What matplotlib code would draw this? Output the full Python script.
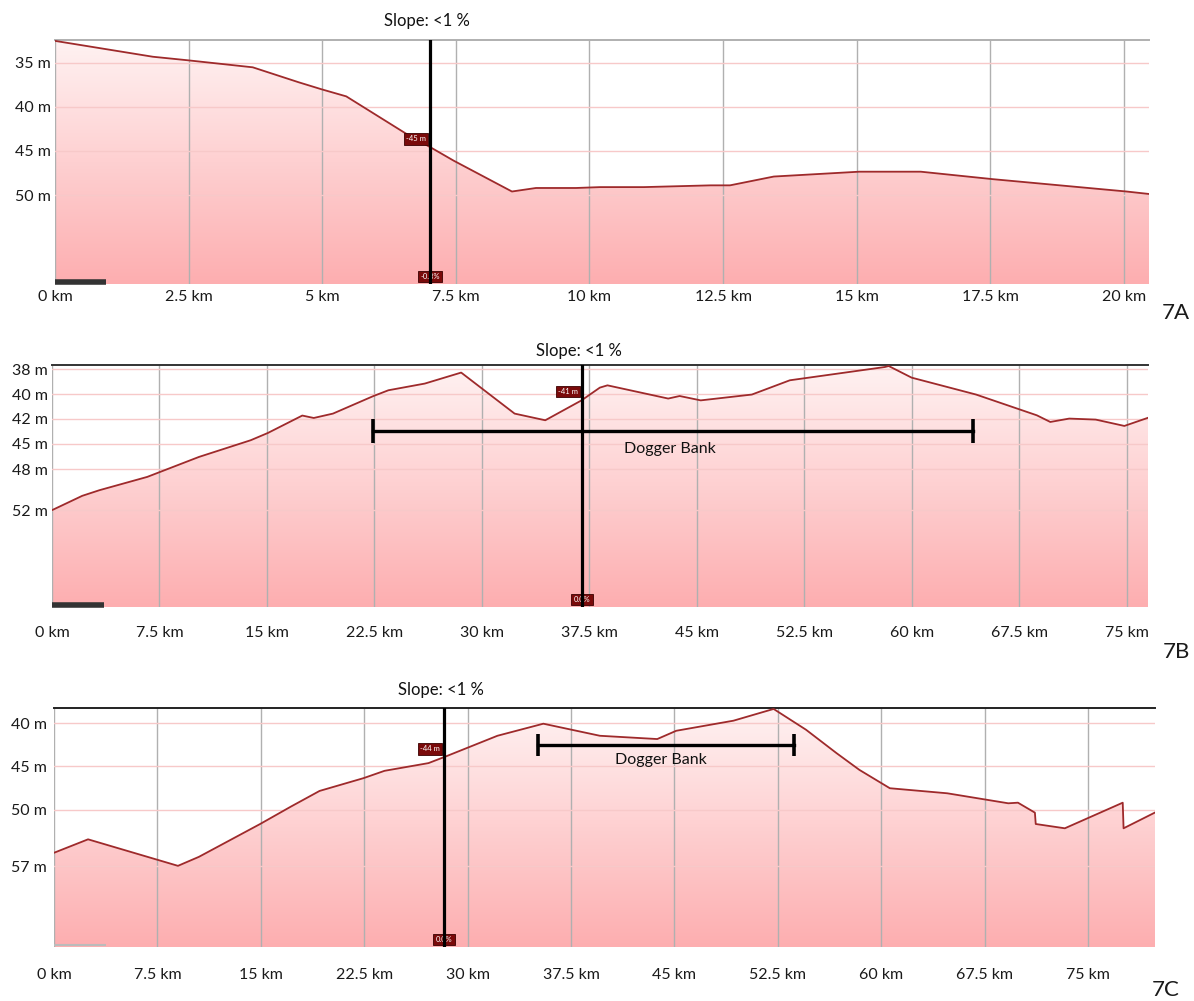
"""
Seabed depth profiles across Dogger Bank (panels 7A, 7B, 7C)
"""
import numpy as np
import matplotlib.pyplot as plt
from matplotlib.patches import Polygon
from matplotlib.colors import LinearSegmentedColormap

plt.rcParams['font.family'] = ['Lato', 'DejaVu Sans']

# ---- 7A ----
a_km = [0, 1.83, 2.48, 3.70, 4.56, 4.99, 5.45, 6.56, 7.06, 7.46, 8.55, 9.0, 9.75,
        10.2, 11.02, 12.27, 12.63, 13.45, 15.05, 16.2, 17.55, 20.05, 20.5]
a_depth = [32.5, 34.3, 34.7, 35.5, 37.2, 38.0, 38.8, 43.0, 44.7, 46.1, 49.6, 49.2, 49.2,
           49.1, 49.1, 48.9, 48.9, 47.9, 47.35, 47.35, 48.2, 49.6, 49.9]
a_xticks = [0, 2.5, 5, 7.5, 10, 12.5, 15, 17.5, 20]
a_xlabels = ['0 km', '2.5 km', '5 km', '7.5 km', '10 km', '12.5 km', '15 km', '17.5 km', '20 km']
a_yticks = [35, 40, 45, 50]
a_ylabels = ['35 m', '40 m', '45 m', '50 m']
a_marker_km = 7.02
a_marker_depth_label = '-45 m'
a_marker_slope_label = '-0.3%'

# ---- 7B ----
b_km = [0, 2.11, 3.31, 6.65, 10.26, 13.87, 15.07, 17.47, 18.27, 19.61, 22.4, 23.48,
        26.02, 28.56, 32.29, 34.43, 36.96, 38.24, 38.77, 43.01, 43.81, 45.28, 48.85,
        51.5, 58.13, 58.4, 60.0, 64.5, 68.74, 69.68, 71.0, 72.85, 74.85, 76.66]
b_depth = [52.0, 50.6, 50.05, 48.75, 46.54, 44.56, 43.7, 41.75, 41.95, 41.59, 40.16, 39.68,
           39.15, 38.28, 41.59, 42.2, 40.5, 39.47, 39.29, 40.35, 40.14, 40.5, 40.02,
           38.89, 37.84, 37.76, 38.68, 40.02, 41.73, 42.4, 42.0, 42.12, 42.87, 41.87]
b_xticks = [0, 7.5, 15, 22.5, 30, 37.5, 45, 52.5, 60, 67.5, 75]
b_xlabels = ['0 km', '7.5 km', '15 km', '22.5 km', '30 km', '37.5 km', '45 km',
             '52.5 km', '60 km', '67.5 km', '75 km']
b_yticks = [38, 40, 42, 45, 48, 52]
b_ylabels = ['38 m', '40 m', '42 m', '45 m', '48 m', '52 m']
b_marker_km = 37.0
b_marker_depth_label = '-41 m'
b_marker_slope_label = '0.0%'
b_bank_km = [22.4, 64.3]
b_bank_depth = 43.5

# ---- 7C ----
c_km = [0, 2.47, 8.99, 10.51, 14.95, 17.18, 19.26, 22.45, 23.97, 27.16, 28.41, 32.16,
        35.49, 39.59, 43.75, 45.13, 49.28, 52.19, 54.54, 56.75, 58.41, 60.62, 64.78,
        69.21, 69.91, 71.14, 71.2, 73.31, 77.51, 77.57, 79.89]
c_depth = [55.32, 53.66, 56.93, 55.82, 51.77, 49.65, 47.85, 46.38, 45.54, 44.65, 43.88,
           41.48, 40.08, 41.48, 41.86, 40.9, 39.73, 38.37, 40.78, 43.49, 45.43, 47.54,
           48.12, 49.27, 49.2, 50.37, 51.77, 52.3, 49.2, 52.3, 50.32]
c_xticks = [0, 7.5, 15, 22.5, 30, 37.5, 45, 52.5, 60, 67.5, 75]
c_xlabels = ['0 km', '7.5 km', '15 km', '22.5 km', '30 km', '37.5 km', '45 km',
             '52.5 km', '60 km', '67.5 km', '75 km']
c_yticks = [40, 45, 50, 57]
c_ylabels = ['40 m', '45 m', '50 m', '57 m']
c_marker_km = 28.28
c_marker_depth_label = '-44 m'
c_marker_slope_label = '0.0%'
c_bank_km = [35.1, 53.7]
c_bank_depth = 42.5

# the source tool spaces its depth labels unevenly; these knots reproduce that scale
a_scale = ([35, 40, 45, 50], [0, 44, 88, 132])
b_scale = ([38, 40, 42, 45, 48, 52], [0, 25.3, 49.6, 75, 100.3, 141.3])
c_scale = ([40, 45, 50, 57], [0, 43, 86.4, 143])

LINE = '#9e2a2b'
fill_cmap = LinearSegmentedColormap.from_list('pinkfill', ['#fff2f2', '#fdaeb0'])


def knot_funcs(xk, yk):
    xk = np.asarray(xk, float)
    yk = np.asarray(yk, float)

    def interp(v, xs, ys):
        v = np.asarray(v, float)
        out = np.interp(v, xs, ys)
        lo_slope = (ys[1] - ys[0]) / (xs[1] - xs[0])
        hi_slope = (ys[-1] - ys[-2]) / (xs[-1] - xs[-2])
        out = np.where(v < xs[0], ys[0] + (v - xs[0]) * lo_slope, out)
        out = np.where(v > xs[-1], ys[-1] + (v - xs[-1]) * hi_slope, out)
        return out

    return (lambda v: interp(v, xk, yk)), (lambda v: interp(v, yk, xk))


def profile_panel(ax, km, depth, xticks, xlabels, yticks, ylabels, scale, xlim, ylim,
                  marker_km, depth_label, slope_label, spine_color, xpad, ypad,
                  slope_dy, bar_color, bar_lw, bank=None, bank_label_at=None, cap=17):
    ax.set_yscale('function', functions=knot_funcs(*scale))
    ax.set_xlim(*xlim)
    ax.set_ylim(*ylim)  # deeper at the bottom

    # gradient fill clipped to the area below the profile
    verts = list(zip(km, depth)) + [(km[-1], ylim[0] + 5), (km[0], ylim[0] + 5)]
    patch = Polygon(verts, closed=True, facecolor='none', edgecolor='none',
                    transform=ax.transData)
    ax.add_patch(patch)
    grad = np.linspace(0, 1, 256).reshape(-1, 1)
    im = ax.imshow(grad, cmap=fill_cmap, extent=[0, 1, 0, 1], transform=ax.transAxes,
                   aspect='auto', origin='upper', zorder=0.3)
    im.set_clip_path(patch)
    ax.set_xlim(*xlim)
    ax.set_ylim(*ylim)

    ax.plot(km, depth, color=LINE, lw=1.3, zorder=3)

    ax.set_xticks(xticks)
    ax.set_xticklabels(xlabels)
    ax.set_yticks(yticks)
    ax.set_yticklabels(ylabels)
    ax.minorticks_off()
    ax.tick_params(length=0, labelsize=11.5, colors='#1a1a1a')
    ax.tick_params(axis='x', pad=xpad)
    ax.tick_params(axis='y', pad=ypad)
    ax.grid(axis='x', color='#b0b0b0', lw=1)
    ax.grid(axis='y', color='#f7c9c9', lw=1)
    for side in ['left', 'right', 'bottom']:
        ax.spines[side].set_visible(False)
    ax.spines['top'].set_color(spine_color)
    ax.spines['top'].set_linewidth(1.4)

    # cursor line with its readouts
    ax.axvline(marker_km, color='black', lw=2.3, zorder=6)
    cross = np.interp(marker_km, km, depth)
    ax.annotate(depth_label, xy=(marker_km, cross), xytext=(-3, 6), textcoords='offset points',
                ha='right', va='center', fontsize=5.5, color='white', zorder=5,
                bbox=dict(boxstyle='square,pad=0.3', fc='#7a0a0a', ec='#3a0000', lw=0.6))
    ax.annotate(slope_label, xy=(marker_km, 0), xycoords=('data', 'axes fraction'),
                xytext=(0, 3), textcoords='offset points', ha='center', va='bottom',
                fontsize=5.5, color='white', zorder=5,
                bbox=dict(boxstyle='square,pad=0.3', fc='#7a0a0a', ec='#3a0000', lw=0.6))
    ax.annotate('Slope: <1 %', xy=(marker_km, 1), xycoords=('data', 'axes fraction'),
                xytext=(-2, slope_dy), textcoords='offset points', ha='center', va='bottom',
                fontsize=12, color='#111111')

    # scrollbar stub at the lower left
    ax.plot([0, 0.047], [0.008, 0.008], transform=ax.transAxes, color=bar_color,
            lw=bar_lw, solid_capstyle='butt', zorder=4, clip_on=False)

    if bank is not None:
        ax.plot(bank, [bank_label_at[2], bank_label_at[2]], color='black', lw=2.4,
                marker='|', ms=cap, mew=2.6, zorder=5)
        ax.text(bank_label_at[0], bank_label_at[1], 'Dogger Bank', ha='center', va='center',
                fontsize=11.5, color='#111111', zorder=5)


fig = plt.figure(figsize=(11.94, 10.01), dpi=100)
W, H = 1194, 1001

ax_a = fig.add_axes([55 / W, 1 - 284 / H, 1094 / W, 244 / H])
ax_b = fig.add_axes([52 / W, 1 - 607 / H, 1096 / W, 242 / H])
ax_c = fig.add_axes([54 / W, 1 - 947 / H, 1101 / W, 239 / H])

profile_panel(ax_a, a_km, a_depth, a_xticks, a_xlabels, a_yticks, a_ylabels, a_scale,
              (0, 20.47), (60.1, 32.4), a_marker_km, a_marker_depth_label,
              a_marker_slope_label, '#b0b0b0', 4, 3, 8, '#333333', 4)
profile_panel(ax_b, b_km, b_depth, b_xticks, b_xlabels, b_yticks, b_ylabels, b_scale,
              (0, 76.5), (61.46, 37.68), b_marker_km, b_marker_depth_label,
              b_marker_slope_label, '#333333', 14, 3, 4, '#333333', 4,
              bank=b_bank_km, bank_label_at=(43.1, 45.6, b_bank_depth), cap=17)
profile_panel(ax_c, c_km, c_depth, c_xticks, c_xlabels, c_yticks, c_ylabels, c_scale,
              (0, 79.85), (66.94, 38.26), c_marker_km, c_marker_depth_label,
              c_marker_slope_label, '#222222', 15, 5, 7, '#bbbbbb', 1.5,
              bank=c_bank_km, bank_label_at=(44.0, 44.25, c_bank_depth), cap=16)

fig.text(1176 / W, 1 - 313 / H, '7A', fontsize=16, color='#1a1a1a', ha='center', va='center')
fig.text(1176 / W, 1 - 652 / H, '7B', fontsize=16, color='#1a1a1a', ha='center', va='center')
fig.text(1166 / W, 1 - 990 / H, '7C', fontsize=16, color='#1a1a1a', ha='center', va='center')

fig.savefig('out.png', dpi=100)
